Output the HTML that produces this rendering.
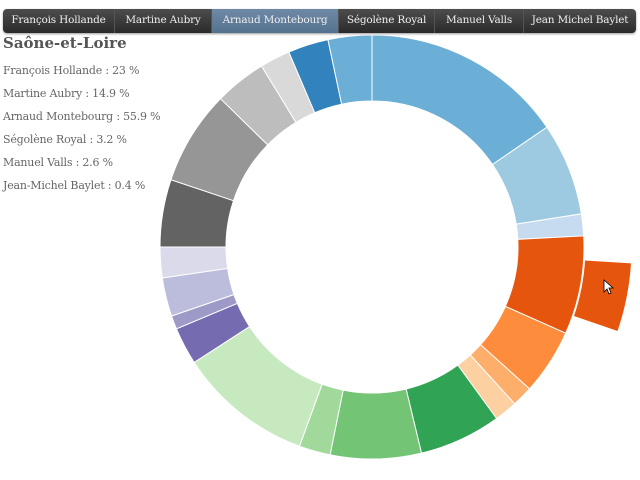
<!DOCTYPE html>
<html><head><meta charset="utf-8"><style>
body{margin:0;width:640px;height:480px;background:#fff;position:relative;overflow:hidden;font-family:"DejaVu Serif","Liberation Serif",serif;}
.nav{position:absolute;left:3px;top:9px;width:633px;height:24px;border-radius:4px;background:linear-gradient(#4d4d4d,#2a2a2a);box-shadow:0 1px 2px rgba(0,0,0,.4);overflow:hidden}
.nav div{position:absolute;top:0;height:24px;line-height:23px;color:#eee;font-size:10.5px;text-align:center;border-right:1px solid #555;box-sizing:border-box;letter-spacing:-0.2px}
.nav .a{background:linear-gradient(#6f8aa6,#54718f)}
h1{position:absolute;left:3px;top:34px;margin:0;font-size:15px;color:#555;font-weight:bold}
.l{position:absolute;left:3px;font-size:11px;color:#666;letter-spacing:-0.2px}
svg{position:absolute;left:0;top:0}
</style></head><body>
<svg width="640" height="480" id="s"></svg>
<div class="nav">
<div style="left:0;width:112px">François Hollande</div>
<div style="left:112px;width:97px">Martine Aubry</div>
<div class="a" style="left:209px;width:127px">Arnaud Montebourg</div>
<div style="left:336px;width:96px">Ségolène Royal</div>
<div style="left:432px;width:89px">Manuel Valls</div>
<div style="left:521px;width:112px;border:none">Jean Michel Baylet</div>
</div>
<h1>Saône-et-Loire</h1>
<div class="l" style="top:64px">François Hollande : 23 %</div>
<div class="l" style="top:87px">Martine Aubry : 14.9 %</div>
<div class="l" style="top:110px">Arnaud Montebourg : 55.9 %</div>
<div class="l" style="top:133px">Ségolène Royal : 3.2 %</div>
<div class="l" style="top:156px">Manuel Valls : 2.6 %</div>
<div class="l" style="top:179px">Jean-Michel Baylet : 0.4 %</div>
<script>
var cx=372,cy=247,R=212,r=146;
var segs=[[0,55.6,"#6baed6"],[55.6,81,"#9ecae1"],[81,87,"#c6dbef"],[87,114,"#e6550d"],[114,132,"#fd8d3c"],[132,137.7,"#fdae6b"],[137.7,144,"#fdd0a2"],[144,166.5,"#31a354"],[166.5,191.4,"#74c476"],[191.4,200,"#a1d99b"],[200,237,"#c7e9c0"],[237,247.3,"#756bb1"],[247.3,251,"#9e9ac8"],[251,261.6,"#bcbddc"],[261.6,270,"#dadaeb"],[270,288.5,"#636363"],[288.5,314.4,"#969696"],[314.4,328.6,"#bdbdbd"],[328.6,336.9,"#d9d9d9"],[336.9,348,"#3182bd"],[348,360,"#6baed6"]];
function p(a,rr){a=a*Math.PI/180;return (cx+rr*Math.sin(a)).toFixed(2)+","+(cy-rr*Math.cos(a)).toFixed(2);}
function arc(a0,a1,ro,ri){var l=(a1-a0)>180?1:0;return "M"+p(a0,ro)+"A"+ro+","+ro+" 0 "+l+" 1 "+p(a1,ro)+"L"+p(a1,ri)+"A"+ri+","+ri+" 0 "+l+" 0 "+p(a0,ri)+"Z";}
var h="";segs.forEach(function(s){h+='<path d="'+arc(s[0],s[1],R,r)+'" fill="'+s[2]+'" stroke="#fff" stroke-width="1"/>';});
h+='<path d="'+arc(93.5,109,260,213)+'" fill="#e6550d" stroke="#fff" stroke-width="1"/>';
h+='<path d="M604,280 L604,292 L607,289 L609,294 L611,293 L609,288 L613,288 Z" fill="#fff" stroke="#000" stroke-width="0.8"/>';
document.getElementById("s").innerHTML=h;
</script>
</body></html>
